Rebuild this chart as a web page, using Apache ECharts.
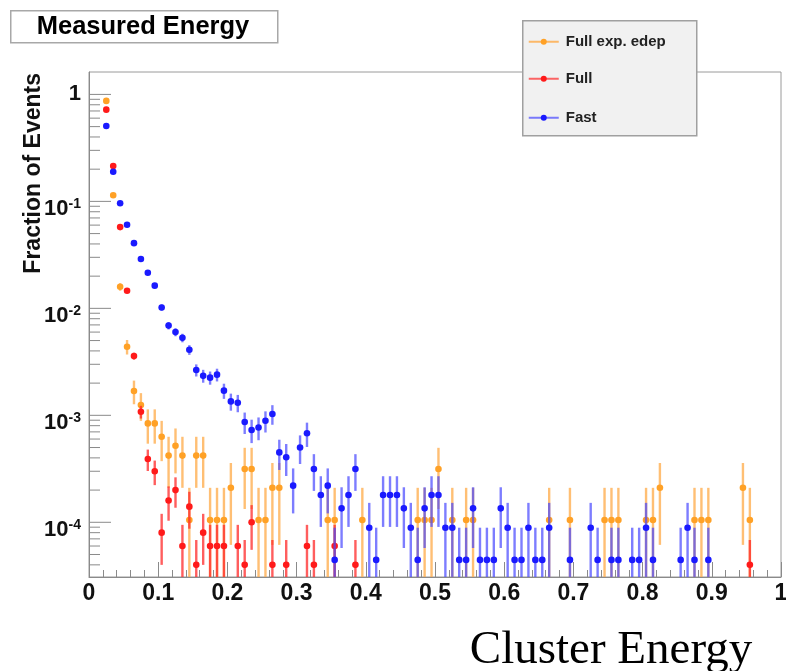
<!DOCTYPE html>
<html><head><meta charset="utf-8">
<script src="https://cdn.jsdelivr.net/npm/echarts@6/dist/echarts.min.js"></script>
<style>html,body{margin:0;padding:0;background:#fff}#c{width:786px;height:671px}</style>
</head><body><div id="c"></div>
<script>
// ---- data (bin centres in GeV, fraction of events) ----
const fullExpX = [0.025,0.035,0.045,0.055,0.065,0.075,0.085,0.095,0.105,0.115,0.125,0.135,0.145,0.155,0.165,0.175,0.185,0.195,0.205,0.225,0.235,0.245,0.255,0.265,0.275,0.345,0.355,0.395,0.475,0.485,0.495,0.505,0.525,0.545,0.555,0.665,0.695,0.745,0.755,0.765,0.805,0.815,0.825,0.875,0.885,0.895,0.945,0.955];
const fullExpY = [0.87,0.114,0.0159,0.00438,0.00169,0.00125,8.4e-4,8.4e-4,6.3e-4,4.2e-4,5.2e-4,4.2e-4,1.05e-4,4.2e-4,4.2e-4,1.05e-4,1.05e-4,1.05e-4,2.1e-4,3.15e-4,3.15e-4,1.05e-4,1.05e-4,2.1e-4,2.1e-4,1.05e-4,1.05e-4,1.05e-4,1.05e-4,1.05e-4,1.05e-4,3.15e-4,1.05e-4,1.05e-4,1.05e-4,1.05e-4,1.05e-4,1.05e-4,1.05e-4,1.05e-4,1.05e-4,1.05e-4,2.1e-4,1.05e-4,1.05e-4,1.05e-4,2.1e-4,1.05e-4];

const fullX = [0.025,0.035,0.045,0.055,0.065,0.075,0.085,0.095,0.105,0.115,0.125,0.135,0.145,0.155,0.165,0.175,0.185,0.195,0.215,0.225,0.235,0.265,0.285,0.315,0.325,0.355,0.385,0.955];
const fullY = [0.72,0.214,0.0575,0.0146,0.00358,0.00108,3.9e-4,3.0e-4,8e-5,1.6e-4,2.0e-4,6e-5,1.4e-4,4e-5,8e-5,6e-5,6e-5,6e-5,6e-5,4e-5,1.0e-4,4e-5,4e-5,6e-5,4e-5,6e-5,4e-5,4e-5];

const fastX = [0.025,0.035,0.045,0.055,0.065,0.075,0.085,0.095,0.105,0.115,0.125,0.135,0.145,0.155,0.165,0.175,0.185,0.195,0.205,0.215,0.225,0.235,0.245,0.255,0.265,0.275,0.285,0.295,0.305,0.315,0.325,0.335,0.345,0.355,0.365,0.375,0.385,0.405,0.415,0.425,0.435,0.445,0.455,0.465,0.475,0.485,0.495,0.505,0.515,0.525,0.535,0.545,0.555,0.565,0.575,0.585,0.595,0.605,0.615,0.625,0.635,0.645,0.655,0.665,0.695,0.725,0.735,0.755,0.765,0.785,0.795,0.805,0.815,0.855,0.865,0.875,0.895];
const fastY = [0.506,0.189,0.096,0.0604,0.0407,0.0289,0.0215,0.0163,0.0102,0.0069,0.0060,0.0053,0.0041,0.00265,0.00234,0.00225,0.0024,0.0017,0.00135,0.00131,8.65e-4,7.3e-4,7.7e-4,8.9e-4,1.03e-3,4.5e-4,4.05e-4,2.2e-4,5.0e-4,6.8e-4,3.15e-4,1.8e-4,2.2e-4,4.45e-5,1.35e-4,1.8e-4,3.15e-4,8.9e-5,4.45e-5,1.8e-4,1.8e-4,1.8e-4,1.35e-4,8.9e-5,4.45e-5,1.35e-4,1.8e-4,1.8e-4,8.9e-5,8.9e-5,4.45e-5,4.45e-5,1.35e-4,4.45e-5,4.45e-5,4.45e-5,1.35e-4,8.9e-5,4.45e-5,4.45e-5,8.9e-5,4.45e-5,4.45e-5,8.9e-5,4.45e-5,8.9e-5,4.45e-5,4.45e-5,4.45e-5,4.45e-5,4.45e-5,8.9e-5,4.45e-5,4.45e-5,8.9e-5,4.45e-5,4.45e-5];

// per-event weight of each histogram (used for Poisson error bars)
const fullExpUnit = 1.05e-4, fullUnit = 2e-5, fastUnit = 4.45e-5;

const seriesNames = ['Full exp. edep', 'Full', 'Fast'];
const xTickLabels = ['0','0.1','0.2','0.3','0.4','0.5','0.6','0.7','0.8','0.9','1'];
const yMajorTicks = [1e-4, 1e-3, 1e-2, 1e-1, 1];
const Y_MIN = 3.08e-5, Y_MAX = 1.62;
const yMinorTicks = [];
for (let n = -5; n <= 0; n++) for (let k = 2; k <= 9; k++) {
  const v = k * Math.pow(10, n);
  if (v > Y_MIN && v < Y_MAX) yMinorTicks.push(v);
}

const FONT = 'Liberation Sans, Arial, sans-serif';

function errSeries(name, xs, ys, unit, dot, bar, z) {
  return {
    type: 'custom', name, z,
    data: xs.map((x, i) => [x, ys[i]]),
    encode: { x: 0, y: 1 },
    renderItem(params, api) {
      const x = api.value(0), y = api.value(1);
      const cs = params.coordSys;
      const e = Math.sqrt(y * unit);
      const p = api.coord([x, y]);
      let top = api.coord([x, y + e])[1];
      let bot = (y - e) > 0 ? api.coord([x, y - e])[1] : cs.y + cs.height;
      top = Math.max(top, cs.y); bot = Math.min(bot, cs.y + cs.height);
      return { type: 'group', children: [
        { type: 'line', shape: { x1: p[0], y1: top, x2: p[0], y2: bot }, style: { stroke: bar, lineWidth: 2.4 } },
        { type: 'circle', shape: { cx: p[0], cy: p[1], r: 3.3 }, style: { fill: dot } }
      ]};
    }
  };
}

const yTickData = yMajorTicks.map(v => [0, v, 1]).concat(yMinorTicks.map(v => [0, v, 0]));

const chart = echarts.init(document.getElementById('c'), null, { renderer: 'canvas' });
chart.setOption({
  backgroundColor: '#fff',
  animation: false,
  grid: { left: 89, right: 5, top: 72, bottom: 94, show: true, borderColor: '#9a9a9a', borderWidth: 1,
          backgroundColor: 'transparent', containLabel: false, outerBoundsMode: 'none' },
  xAxis: {
    type: 'value', min: 0, max: 1, interval: 0.1,
    axisLine: { show: true, lineStyle: { color: '#8a8a8a', width: 1 } },
    axisTick: { show: true, inside: true, length: 15, lineStyle: { color: '#8a8a8a' } },
    minorTick: { show: true, splitNumber: 5, length: 7, lineStyle: { color: '#8a8a8a' } },
    splitLine: { show: false },
    axisLabel: { margin: 5, fontFamily: FONT, fontWeight: 'bold', fontSize: 23, color: '#111',
      hideOverlap: false,
      formatter: v => xTickLabels[Math.round(v * 10)] }
  },
  yAxis: {
    type: 'log', logBase: 10, min: Y_MIN, max: Y_MAX,
    axisLine: { show: true, lineStyle: { color: '#8a8a8a', width: 1 } },
    axisTick: { show: false },
    splitLine: { show: false },
    axisLabel: {
      margin: 8, color: '#111',
      formatter: v => {
        const l = Math.log10(v), e = Math.round(l);
        if (Math.abs(l - e) > 1e-6 || yMajorTicks.indexOf(Math.pow(10, e)) < 0) return '';
        return e === 0 ? '{o|1}' : '{b|10}{s|' + e + '}';
      },
      rich: {
        o: { fontFamily: FONT, fontWeight: 'bold', fontSize: 22, color: '#111' },
        b: { fontFamily: FONT, fontWeight: 'bold', fontSize: 22, color: '#111', padding: [16, 0, 0, 0] },
        s: { fontFamily: FONT, fontWeight: 'bold', fontSize: 14, color: '#111', verticalAlign: 'top', padding: [15, 0, 0, 0] }
      }
    }
  },
  series: [
    {
      type: 'custom', name: 'yticks', z: 1, silent: true,
      data: yTickData, encode: { x: 0, y: 1 },
      renderItem(params, api) {
        const cs = params.coordSys;
        const py = api.coord([0, api.value(1)])[1];
        const len = api.value(2) ? 22 : 11;
        return { type: 'line', shape: { x1: cs.x, y1: py, x2: cs.x + len, y2: py }, style: { stroke: '#8a8a8a', lineWidth: 1 } };
      }
    },
    errSeries(seriesNames[0], fullExpX, fullExpY, fullExpUnit, '#ffa126', 'rgba(255,170,70,0.75)', 2),
    errSeries(seriesNames[1], fullX, fullY, fullUnit, '#ff1a1a', 'rgba(255,40,40,0.75)', 3),
    errSeries(seriesNames[2], fastX, fastY, fastUnit, '#1a1aff', 'rgba(70,70,255,0.7)', 4)
  ],
  graphic: [
    { type: 'rect', left: 10, top: 10, shape: { width: 267, height: 32 }, style: { fill: '#fff', stroke: '#a8a8a8', lineWidth: 1.5 } },
    { type: 'text', x: 143, y: 27, style: { text: 'Measured Energy', font: 'bold 25.5px ' + FONT, fill: '#000', textAlign: 'center', textVerticalAlign: 'middle' } },
    { type: 'text', x: 34, y: 73, rotation: Math.PI / 2, style: { text: 'Fraction of Events', font: 'bold 23px ' + FONT, fill: '#111', textAlign: 'right', textVerticalAlign: 'middle' } },
    { type: 'text', x: 611, y: 651, style: { text: 'Cluster Energy', font: '47px Liberation Serif, Times New Roman, serif', fill: '#000', textAlign: 'center', textVerticalAlign: 'middle' } },
    { type: 'group', left: 522, top: 20, z: 100, children: [
      { type: 'rect', shape: { x: 0, y: 0, width: 174, height: 115 }, style: { fill: '#f1f1f1', stroke: '#a0a0a0', lineWidth: 1.5 } },
      { type: 'line', shape: { x1: 6, y1: 21, x2: 36, y2: 21 }, style: { stroke: 'rgba(255,170,70,0.8)', lineWidth: 2 } },
      { type: 'circle', shape: { cx: 21, cy: 21, r: 3 }, style: { fill: '#ffa126' } },
      { type: 'text', x: 43, y: 21, style: { text: seriesNames[0], font: 'bold 15px ' + FONT, fill: '#222', textVerticalAlign: 'middle' } },
      { type: 'line', shape: { x1: 6, y1: 58, x2: 36, y2: 58 }, style: { stroke: 'rgba(255,40,40,0.7)', lineWidth: 2 } },
      { type: 'circle', shape: { cx: 21, cy: 58, r: 3 }, style: { fill: '#ff1a1a' } },
      { type: 'text', x: 43, y: 58, style: { text: seriesNames[1], font: 'bold 15px ' + FONT, fill: '#222', textVerticalAlign: 'middle' } },
      { type: 'line', shape: { x1: 6, y1: 97, x2: 36, y2: 97 }, style: { stroke: 'rgba(70,70,255,0.7)', lineWidth: 2 } },
      { type: 'circle', shape: { cx: 21, cy: 97, r: 3 }, style: { fill: '#1a1aff' } },
      { type: 'text', x: 43, y: 97, style: { text: seriesNames[2], font: 'bold 15px ' + FONT, fill: '#222', textVerticalAlign: 'middle' } }
    ]}
  ]
});
</script>
</body></html>
